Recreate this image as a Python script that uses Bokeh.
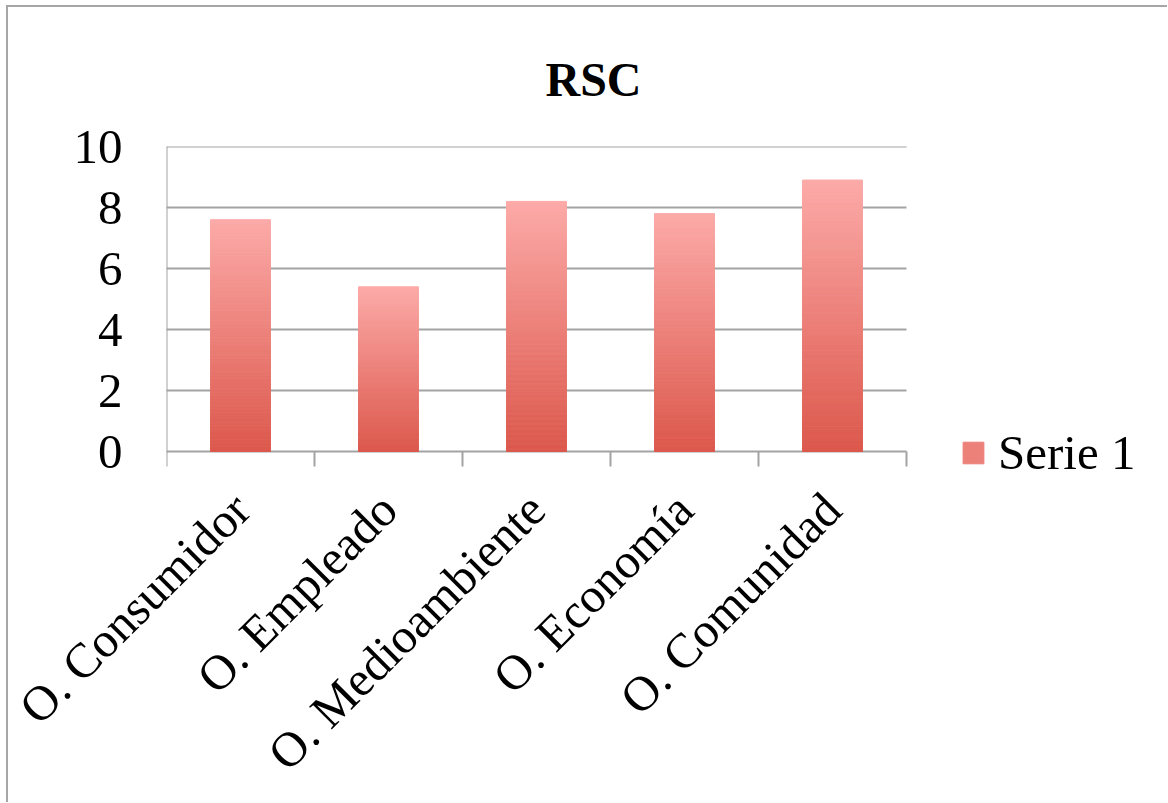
import math
import numpy as np
from bokeh.plotting import figure
from bokeh.models import (Range1d, FixedTicker, Legend, LegendItem,
                          ColumnDataSource)
from bokeh.embed import file_html
from bokeh.resources import INLINE

# ---- data ----
categories = ["O. Consumidor", "O. Empleado", "O. Medioambiente",
              "O. Economía", "O. Comunidad"]
values = [7.6, 5.4, 8.2, 7.8, 8.9]
y_ticks = [0, 2, 4, 6, 8, 10]
y_max = 10
series_name = "Serie 1"
title_text = "RSC"

# ---- style / layout constants ----
FONT = "Liberation Serif"
GRID = "#a3a3a3"
TOP_RGB = np.array([252, 170, 168])
BOT_RGB = np.array([220, 88, 76])
BAR_W = 0.405
N_SLICES = 150

W, H = 1161, 797
BORDER_L, BORDER_T = 158, 139
PLOT_W_PX = 740          # width used by the categories
PLOT_H_PX = 305          # height from 0 to y_max
EXTRA_B_PX = 30          # room below zero (for the legend)
TICK_PX = 15

n = len(categories)
px_per_x = PLOT_W_PX / n
px_per_y = PLOT_H_PX / y_max
frame_w = W - BORDER_L
frame_h = PLOT_H_PX + EXTRA_B_PX
x_end = frame_w / px_per_x
y_start = -EXTRA_B_PX / px_per_y
tick_x = TICK_PX / px_per_x
tick_y = TICK_PX / px_per_y

# gradient bars built as thin slices computed from each value
rows = dict(left=[], right=[], bottom=[], top=[], color=[])
for i, v in enumerate(values):
    cx = i + 0.5
    for k in range(N_SLICES):
        t = (k + 0.5) / N_SLICES
        c = BOT_RGB + (TOP_RGB - BOT_RGB) * t
        rows["left"].append(cx - BAR_W / 2)
        rows["right"].append(cx + BAR_W / 2)
        rows["bottom"].append(v * k / N_SLICES)
        rows["top"].append(v * (k + 1) / N_SLICES)
        rows["color"].append("#%02x%02x%02x" % tuple(int(round(x)) for x in c))
src = ColumnDataSource(rows)

p = figure(width=W, height=H,
           x_range=Range1d(0, x_end), y_range=Range1d(y_start, y_max),
           output_backend="svg", toolbar_location=None,
           min_border_left=BORDER_L, min_border_right=0,
           min_border_top=BORDER_T,
           min_border_bottom=H - BORDER_T - frame_h)
p.outline_line_color = None
p.background_fill_color = "white"
p.border_fill_color = "white"
p.styles = {"border-top": "2px solid #a6a6a6", "border-left": "2px solid #a6a6a6",
            "margin-left": "6px", "margin-top": "5px"}
p.xgrid.grid_line_color = None
p.ygrid.grid_line_color = None

# grid lines (y ticks) and axis lines, limited to the category area
p.segment(x0=-tick_x, x1=n, y0=y_ticks, y1=y_ticks,
          line_color=GRID, line_width=2)
p.segment(x0=0, x1=0, y0=0, y1=y_max, line_color=GRID, line_width=2)
# category boundary ticks below the x axis
p.segment(x0=list(range(n + 1)), x1=list(range(n + 1)),
          y0=0, y1=-tick_y, line_color=GRID, line_width=2)

r = p.quad(left="left", right="right", bottom="bottom", top="top",
           fill_color="color", line_color="color", line_width=1, source=src)

# title
p.title.text = title_text
p.title.text_font = FONT
p.title.text_font_size = "48px"
p.title.text_font_style = "bold"
p.title.text_color = "black"
p.title.align = "left"
p.title.offset = 379
p.title.standoff = 82

# y axis (labels only; ticks drawn by the grid segments)
ya = p.yaxis[0]
ya.ticker = FixedTicker(ticks=y_ticks)
ya.axis_line_color = None
ya.major_tick_line_color = None
ya.minor_tick_line_color = None
ya.major_tick_out = TICK_PX
ya.major_tick_in = 0
ya.major_label_text_font = FONT
ya.major_label_text_font_size = "49px"
ya.major_label_text_color = "black"
ya.major_label_standoff = 29

# x axis (labels only)
xa = p.xaxis[0]
xa.ticker = FixedTicker(ticks=[i + 0.5 for i in range(n)], minor_ticks=[])
xa.major_label_overrides = {i + 0.5: c for i, c in enumerate(categories)}
xa.axis_line_color = None
xa.major_tick_line_color = None
xa.minor_tick_line_color = None
xa.major_tick_out = 0
xa.major_tick_in = 0
xa.major_label_orientation = math.pi / 4
xa.major_label_text_font = FONT
xa.major_label_text_font_size = "49px"
xa.major_label_text_color = "black"
xa.major_label_standoff = 20

legend = Legend(items=[LegendItem(label=series_name, renderers=[r], index=75)],
                location=(794, 0), label_text_font=FONT,
                label_text_font_size="49px", label_text_color="black",
                glyph_width=26, glyph_height=27, padding=0, margin=0,
                label_standoff=12, border_line_color=None,
                background_fill_alpha=0)
p.add_layout(legend, "center")

open("out.html", "w").write(file_html(p, INLINE))
